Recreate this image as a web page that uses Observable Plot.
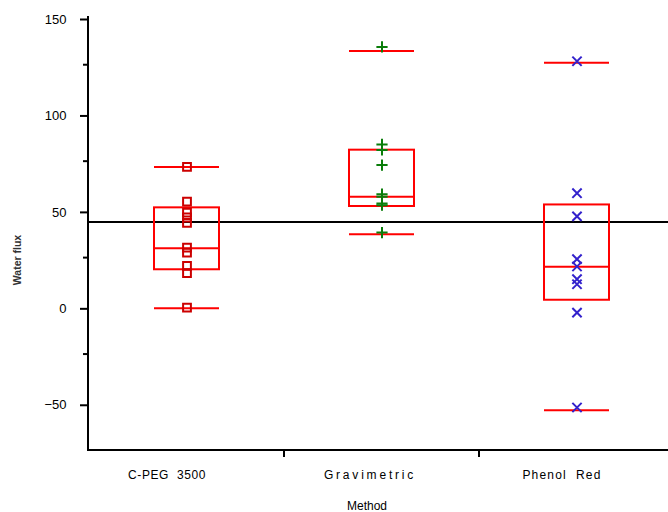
<!DOCTYPE html>
<html><head><meta charset="utf-8">
<script src="https://cdn.jsdelivr.net/npm/d3@7"></script>
<script src="https://cdn.jsdelivr.net/npm/@observablehq/plot@0.6"></script>
<style>
body{margin:0;background:#fff}
svg{display:block}
svg text{white-space:pre}
</style>
</head><body><div id="chart"></div>
<script>
// ---- data ----
const methods = ["C-PEG  3500", "Gravimetric", "Phenol  Red"];
const cpegValues = [72, 54, 48.3, 45.8, 43, 30.2, 27.6, 20.7, 17, -0.9];
const gravValues = [134.2, 83.7, 80.8, 73, 57.9, 56.5, 53, 52.2, 38];
const phenolValues = [126.8, 58.4, 46.4, 24.2, 20.4, 13.8, 11.2, -3.5, -52.7];
const boxLow = [-1.3, 37.1, -54.1];
const boxQ1 = [18.7, 51.5, 2.9];
const boxMedian = [29.8, 56.6, 20.2];
const boxQ3 = [50.8, 80.7, 52.3];
const boxHigh = [72, 132.1, 126];
const referenceValue = [43.5];
const yMajorTicks = [-50, 0, 50, 100, 150];
const yMinorTicks = [-25, 25, 75, 125];
const yDomain = [-75, 150];
const yLabel = "Water flux";
const xLabel = "Method";

// ---- tables ----
const boxes = methods.map((m, i) => ({method: m, low: boxLow[i], q1: boxQ1[i], median: boxMedian[i], q3: boxQ3[i], high: boxHigh[i]}));
const toRows = (m, vals) => vals.map(v => ({method: m, value: v}));
const cpegPts = toRows(methods[0], cpegValues);
const gravPts = toRows(methods[1], gravValues);
const phenolPts = toRows(methods[2], phenolValues);

const red = "#ff0000";
const boxInset = 65;

const plot = Plot.plot({
  width: 668,
  height: 512,
  marginLeft: 88,
  marginRight: 0,
  marginTop: 16,
  marginBottom: 62,
  style: {fontFamily: "'Liberation Sans', Arial, sans-serif", fontSize: "12px", color: "#000", background: "#fff", overflow: "visible"},
  x: {domain: methods, range: [88, 674], padding: 0, axis: null},
  y: {domain: yDomain, axis: null},
  marks: [
    Plot.ruleY(referenceValue, {stroke: "#000", strokeWidth: 2}),
    Plot.barY(boxes, {x: "method", y1: "q1", y2: "q3", fill: "none", stroke: red, strokeWidth: 2, insetLeft: boxInset, insetRight: boxInset}),
    Plot.tickY(boxes, {x: "method", y: "median", stroke: red, strokeWidth: 2, inset: boxInset}),
    Plot.tickY(boxes, {x: "method", y: "low", stroke: red, strokeWidth: 2, inset: boxInset}),
    Plot.tickY(boxes, {x: "method", y: "high", stroke: red, strokeWidth: 2, inset: boxInset}),
    Plot.dot(cpegPts, {x: "method", y: "value", symbol: "square", r: 4.4, fill: "none", stroke: "#cc0000", strokeWidth: 2}),
    Plot.dot(gravPts, {x: "method", y: "value", symbol: "plus", r: 3.7, stroke: "#0a7d0a", strokeWidth: 2}),
    Plot.dot(phenolPts, {x: "method", y: "value", symbol: "times", r: 4.3, stroke: "#3322cc", strokeWidth: 2}),
    Plot.axisY({ticks: yMajorTicks, tickSize: 8, tickPadding: 14, strokeWidth: 2, fontSize: 13, dy: 3, label: null}),
    Plot.axisY({ticks: yMinorTicks, tickSize: 5, tickFormat: () => "", strokeWidth: 2, label: null}),
    Plot.axisX({tickSize: 0, tickPadding: 20, dx: -15, fontSize: 12, label: null})
  ]
});

const svg = d3.select(plot);
const xs = plot.scale("x"), ys = plot.scale("y");
const left = xs.range[0];
const right = 668;
const yBottom = ys.apply(yDomain[0]), yTop = ys.apply(yDomain[1]);
const g = svg.append("g").attr("stroke", "#000").attr("stroke-width", 2);
g.append("line").attr("x1", left).attr("x2", left).attr("y1", yTop).attr("y2", yBottom + 1);
g.append("line").attr("x1", left - 1).attr("x2", right).attr("y1", yBottom).attr("y2", yBottom);
methods.slice(1).forEach(m => {
  const bx = xs.apply(m);
  g.append("line").attr("x1", bx).attr("x2", bx).attr("y1", yBottom).attr("y2", yBottom + 7);
});
// letter spacing of category labels
const spacing = {"C-PEG  3500": 0.6, "Gravimetric": 2.8, "Phenol  Red": 1.2};
const shift = {"C-PEG  3500": -5, "Gravimetric": 3, "Phenol  Red": 0};
svg.selectAll("g[aria-label='x-axis tick label'] text").each(function() {
  const t = d3.select(this);
  t.attr("letter-spacing", spacing[t.text()] ?? 0);
  t.attr("dx", shift[t.text()] ?? 0);
});
svg.append("text").attr("x", 367).attr("y", 510).attr("text-anchor", "middle").attr("font-size", 12).attr("fill", "#000").text(xLabel);
svg.append("text").attr("transform", `translate(21,${(yTop + yBottom) / 2 + 27}) rotate(-90)`).attr("text-anchor", "middle").attr("font-size", 10.5).attr("font-weight", "bold").attr("fill", "#333").text(yLabel);

document.getElementById("chart").appendChild(plot);
</script>
</body></html>
